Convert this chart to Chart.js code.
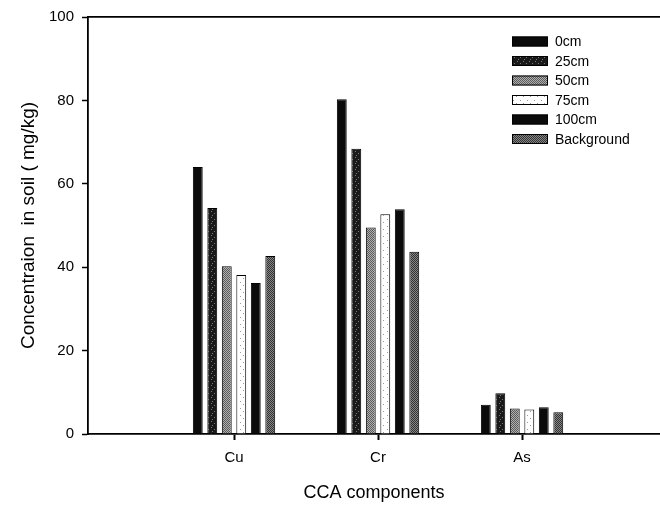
<!DOCTYPE html>
<html>
<head>
<meta charset="utf-8">
<script src="https://cdn.jsdelivr.net/npm/chart.js@4/dist/chart.umd.min.js"></script>
<style>
  html, body { margin: 0; padding: 0; background: #fff; }
  #wrap { width: 660px; height: 511px; }
</style>
</head>
<body>
<div id="wrap"><canvas id="chart" width="660" height="511"></canvas></div>
<script>
// data
const categories = ['Cu', 'Cr', 'As'];
const depthLabels = ['0cm', '25cm', '50cm', '75cm', '100cm', 'Background'];
const cm0 = [64.0, 80.3, 7.0];
const cm25 = [54.2, 68.4, 9.8];
const cm50 = [40.2, 49.5, 6.1];
const cm75 = [38.1, 52.7, 5.9];
const cm100 = [36.2, 53.9, 6.4];
const background = [42.7, 43.7, 5.2];
const yTicks = [0, 20, 40, 60, 80, 100];

const FONT = '"Liberation Sans", Arial, sans-serif';

// little grayscale textures like the scanned fills
function makePattern(size, base, dots, dotColor) {
    const c = document.createElement('canvas');
    c.width = size; c.height = size;
    const g = c.getContext('2d');
    g.fillStyle = base;
    g.fillRect(0, 0, size, size);
    g.fillStyle = dotColor;
    dots.forEach(d => g.fillRect(d[0], d[1], 1, 1));
    return g.createPattern(c, 'repeat');
}
const ctx = document.getElementById('chart').getContext('2d');
const checker = [[0,0],[2,0],[1,1],[3,1],[0,2],[2,2],[1,3],[3,3]];
const fills = [
    '#0b0b0b',
    makePattern(6, '#1a1a1a', [[1,1],[4,3],[2,5]], '#7a7a7a'),
    makePattern(4, '#b0b0b0', checker, '#5a5a5a'),
    makePattern(7, '#ffffff', [[2,2],[5,5]], '#9a9a9a'),
    '#0b0b0b',
    makePattern(4, '#858585', checker, '#333333')
];
const seriesValues = [cm0, cm25, cm50, cm75, cm100, background];

const datasets = seriesValues.map((vals, i) => ({
    label: depthLabels[i],
    data: vals.map((v, k) => ({ x: k + 1, y: v })),
    backgroundColor: fills[i],
    borderColor: '#000',
    borderWidth: 1,
    categoryPercentage: 0.604,
    barPercentage: 0.68
}));

// legend box in the upper right, drawn from the datasets
const cornerLegend = {
    id: 'cornerLegend',
    afterDraw(chart) {
        const c = chart.ctx;
        c.save();
        c.font = '14px ' + FONT;
        c.textBaseline = 'middle';
        chart.data.datasets.forEach((ds, i) => {
            const cy = 41.5 + i * 19.5;
            c.fillStyle = ds.backgroundColor;
            c.fillRect(512, cy - 5, 36, 10);
            c.strokeStyle = '#000';
            c.lineWidth = 1;
            c.strokeRect(512.5, cy - 4.5, 35, 9);
            c.fillStyle = '#000';
            c.fillText(ds.label, 555, cy + 1);
        });
        c.restore();
    }
};

new Chart(ctx, {
    type: 'bar',
    data: { datasets: datasets },
    plugins: [cornerLegend],
    options: {
        responsive: false,
        animation: false,
        layout: { padding: 0 },
        plugins: {
            legend: { display: false },
            tooltip: { enabled: false }
        },
        scales: {
            x: {
                type: 'linear',
                min: -0.014,
                max: 3.958,
                offset: false,
                afterBuildTicks: s => { s.ticks = categories.map((c, i) => ({ value: i + 1 })); },
                afterFit: s => { s.height = 77; },
                ticks: {
                    callback: v => categories[v - 1] || '',
                    color: '#000',
                    font: { family: FONT, size: 15 },
                    padding: 9,
                    maxRotation: 0
                },
                grid: { offset: false, drawOnChartArea: false, drawTicks: true, tickLength: 6, tickColor: '#000', tickWidth: 2 },
                border: { color: '#000', width: 1.8 },
                title: {
                    display: true,
                    text: 'CCA components',
                    color: '#000',
                    font: { family: FONT, size: 18 },
                    padding: { top: 0, bottom: 7 }
                }
            },
            xTop: {
                type: 'linear',
                position: 'top',
                offset: false,
                afterFit: s => { s.height = 15; },
                ticks: { display: false },
                grid: { offset: false, drawOnChartArea: false, drawTicks: false },
                border: { color: '#000', width: 1.8 }
            },
            y: {
                min: 0,
                max: 100,
                afterBuildTicks: s => { s.ticks = yTicks.map(v => ({ value: v })); },
                afterFit: s => { s.width = 88; },
                ticks: {
                    color: '#000',
                    font: { family: FONT, size: 15 },
                    padding: 8
                },
                grid: { drawOnChartArea: false, drawTicks: true, tickLength: 6, tickColor: '#000', tickWidth: 1.5 },
                border: { color: '#000', width: 1.8 },
                title: {
                    display: true,
                    text: 'Concentraion  in soil ( mg/kg)',
                    color: '#000',
                    font: { family: FONT, size: 19 },
                    padding: { top: 17, bottom: 0 }
                }
            }
        }
    }
});
</script>
</body>
</html>
